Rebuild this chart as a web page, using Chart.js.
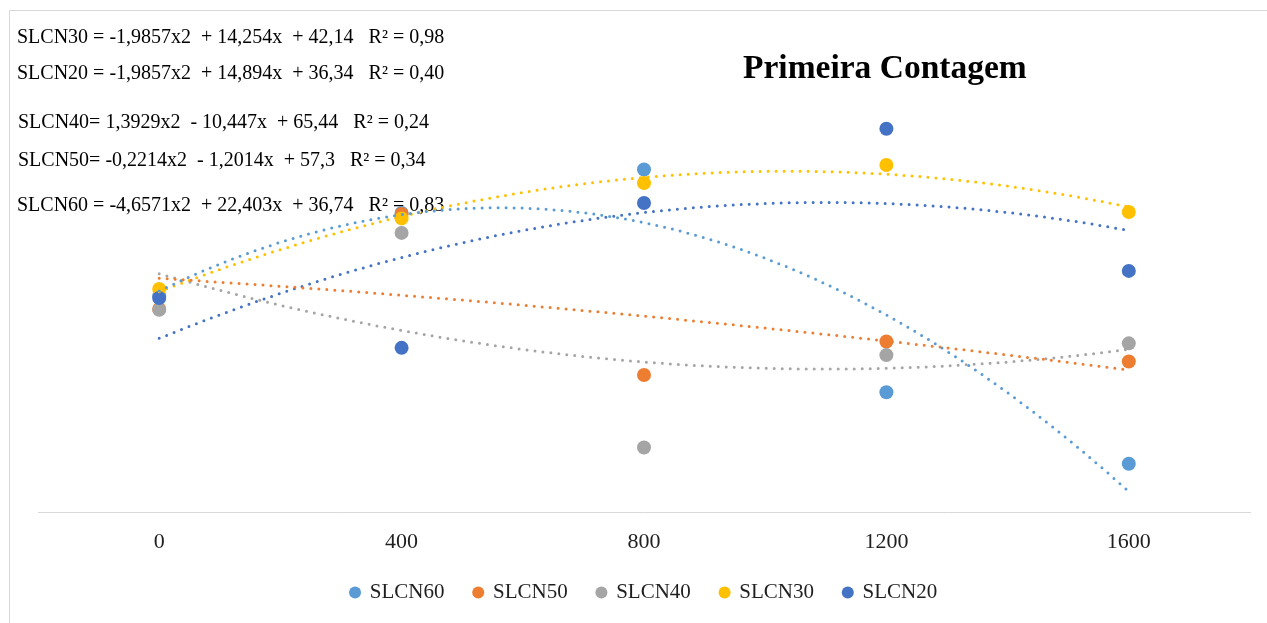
<!DOCTYPE html>
<html>
<head>
<meta charset="utf-8">
<script src="https://cdn.jsdelivr.net/npm/chart.js@4.4.1/dist/chart.umd.min.js"></script>
<style>
  html, body { margin: 0; padding: 0; background: #fff; overflow: hidden; }
  #frame { position: absolute; left: 9px; top: 10px; width: 1300px; height: 700px; border: 1px solid #d9d9d9; }
  #wrap { position: absolute; left: 0; top: 0; width: 1267px; height: 623px; }
</style>
</head>
<body>
<div id="frame"></div>
<div id="wrap"><canvas id="chart"></canvas></div>
<script>
// categorias do eixo x (doses)
const categories = [0, 400, 800, 1200, 1600];

const seriesNames = ['SLCN60', 'SLCN50', 'SLCN40', 'SLCN30', 'SLCN20'];
const slcn60 = [53.9, 63.1, 67.9, 43.3, 35.4];
const slcn50 = [52.5, 63.0, 45.2, 48.9, 46.7];
const slcn40 = [52.4, 60.9, 37.2, 47.4, 48.7];
const slcn30 = [54.7, 62.5, 66.4, 68.4, 63.2];
const slcn20 = [53.7, 48.2, 64.2, 72.4, 56.7];
const seriesValues = [slcn60, slcn50, slcn40, slcn30, slcn20];
const seriesColors = ['#5B9BD5', '#ED7D31', '#A5A5A5', '#FFC000', '#4472C4'];

// coeficientes das linhas de tendencia (polinomial 2a ordem, x = 1..5)
const trendA = [-4.6571, -0.2214, 1.3929, -1.9857, -1.9857];
const trendB = [22.403, -1.2014, -10.447, 14.254, 14.894];
const trendC = [36.74, 57.3, 65.44, 42.14, 36.34];

const equationLines = [
  'SLCN30 = -1,9857x2  + 14,254x  + 42,14   R² = 0,98',
  'SLCN20 = -1,9857x2  + 14,894x  + 36,34   R² = 0,40',
  'SLCN40= 1,3929x2  - 10,447x  + 65,44   R² = 0,24',
  'SLCN50= -0,2214x2  - 1,2014x  + 57,3   R² = 0,34',
  'SLCN60 = -4,6571x2  + 22,403x  + 36,74   R² = 0,83'
];
const chartTitle = 'Primeira Contagem';

const SERIF = '"Liberation Serif", "DejaVu Serif", serif';
const TEXT_COLOR = '#1f1f1f';

function trendPoints(i) {
  const pts = [];
  for (let k = 0; k <= 40; k++) {
    const x = 1 + k / 10;
    pts.push({ x: (x - 1) * 400, y: trendA[i] * x * x + trendB[i] * x + trendC[i] });
  }
  return pts;
}

const pointDatasets = seriesNames.map((name, i) => ({
  label: name,
  data: categories.map((c, j) => ({ x: c, y: seriesValues[i][j] })),
  backgroundColor: seriesColors[i],
  borderColor: seriesColors[i],
  borderWidth: 0,
  pointRadius: 7,
  pointHoverRadius: 7,
  pointStyle: 'circle',
  order: 10 - i
}));

const trendDatasets = seriesNames.map((name, i) => ({
  label: 'trend ' + name,
  data: trendPoints(i),
  showLine: true,
  borderColor: seriesColors[i],
  borderWidth: 3,
  borderDash: [0, 8],
  borderCapStyle: 'round',
  pointRadius: 0,
  pointHoverRadius: 0,
  tension: 0,
  fill: false,
  order: 0
}));

// textos livres (equacoes e titulo) desenhados antes dos pontos
const textPlugin = {
  id: 'chartTexts',
  beforeDatasetsDraw(chart) {
    const ctx = chart.ctx;
    ctx.save();
    ctx.fillStyle = '#000';
    ctx.textBaseline = 'alphabetic';
    ctx.font = '20px ' + SERIF;
    const ys = [43, 79, 128, 166, 211];
    const xs = [17, 17, 18, 18, 17];
    equationLines.forEach((line, i) => ctx.fillText(line, xs[i], ys[i]));
    ctx.font = 'bold 33.5px ' + SERIF;
    ctx.fillText(chartTitle, 743, 78);
    ctx.restore();
  }
};

new Chart(document.getElementById('chart'), {
  type: 'scatter',
  data: { datasets: pointDatasets.concat(trendDatasets) },
  options: {
    responsive: true,
    maintainAspectRatio: false,
    animation: false,
    layout: { padding: { left: 38, right: 17, top: 60, bottom: 10 } },
    plugins: {
      tooltip: { enabled: false },
      legend: {
        position: 'bottom',
        labels: {
          filter: (item) => item.datasetIndex < seriesNames.length,
          sort: (a, b) => a.datasetIndex - b.datasetIndex,
          // espacos no fim so para afastar os itens sem aumentar a altura
          generateLabels: (chart) => Chart.defaults.plugins.legend.labels.generateLabels(chart)
            .map(item => Object.assign(item, {
              text: item.datasetIndex < seriesNames.length - 1 ? item.text + '  ' : item.text
            })),
          usePointStyle: true,
          pointStyle: 'circle',
          boxWidth: 8.5,
          boxHeight: 8.5,
          padding: 19,
          color: TEXT_COLOR,
          font: { family: SERIF, size: 21 }
        }
      }
    },
    scales: {
      x: {
        type: 'linear',
        min: -200,
        max: 1800,
        afterBuildTicks: (axis) => { axis.ticks = categories.map(v => ({ value: v })); },
        grid: { display: false },
        border: { display: true, color: '#d9d9d9', width: 1 },
        ticks: {
          color: TEXT_COLOR,
          padding: 8,
          font: { family: SERIF, size: 22 },
          callback: (v) => String(v)
        }
      },
      y: { min: 30, max: 80, display: false }
    }
  },
  plugins: [textPlugin]
});
</script>
</body>
</html>
